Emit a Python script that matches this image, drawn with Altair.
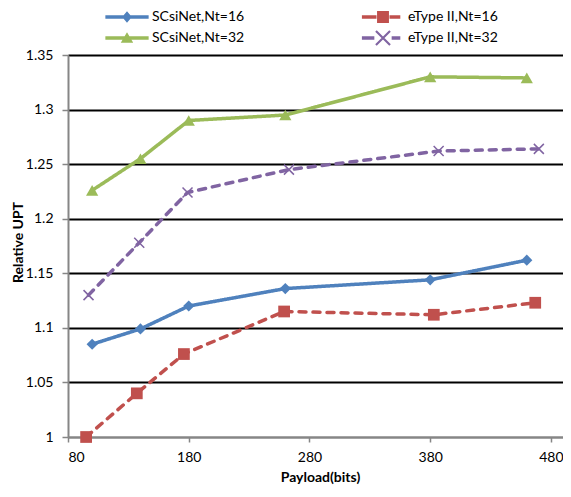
import altair as alt
import pandas as pd

series_names = ["SCsiNet,Nt=16", "eType II,Nt=16", "SCsiNet,Nt=32", "eType II,Nt=32"]
series_colors = ["#4F81BD", "#C0504D", "#9BBB59", "#8064A2"]

payload_scsinet_16 = [100, 140, 180, 260, 380, 460]
upt_scsinet_16 = [1.085, 1.099, 1.120, 1.136, 1.144, 1.162]
payload_etype_16 = [95, 137, 176, 259, 383, 467]
upt_etype_16 = [1.000, 1.040, 1.076, 1.115, 1.112, 1.123]
payload_scsinet_32 = [100, 140, 180, 260, 380, 460]
upt_scsinet_32 = [1.226, 1.255, 1.290, 1.295, 1.330, 1.329]
payload_etype_32 = [97, 139, 179, 263, 387, 470]
upt_etype_32 = [1.130, 1.178, 1.224, 1.245, 1.262, 1.264]

x_ticks = [80, 180, 280, 380, 480]
y_ticks = [1.0, 1.05, 1.1, 1.15, 1.2, 1.25, 1.3, 1.35]

rows = []
for name, xs, ys in [
    (series_names[0], payload_scsinet_16, upt_scsinet_16),
    (series_names[1], payload_etype_16, upt_etype_16),
    (series_names[2], payload_scsinet_32, upt_scsinet_32),
    (series_names[3], payload_etype_32, upt_etype_32),
]:
    for i, (xv, yv) in enumerate(zip(xs, ys)):
        rows.append({"series": name, "payload": xv, "upt": yv, "idx": i})
df = pd.DataFrame(rows)

GRAY = "#868686"
FONT = "Lato"

x_enc = alt.X(
    "payload:Q",
    scale=alt.Scale(domain=[80, 490], nice=False, zero=False),
    axis=alt.Axis(
        values=x_ticks, format="d", grid=False, title="Payload(bits)",
        domainColor=GRAY, domainWidth=2.5, tickColor=GRAY, tickSize=5, tickWidth=1.5,
        labelFont=FONT, labelFontSize=14, labelColor="black", labelPadding=8,
        titleFont=FONT, titleFontSize=14, titleFontWeight="bold", titleColor="black",
        titlePadding=6, titleX=252,
    ),
)
y_enc = alt.Y(
    "upt:Q",
    scale=alt.Scale(domain=[1.0, 1.35], nice=False, zero=False),
    axis=alt.Axis(
        values=y_ticks, format="~g", grid=True,
        gridColor={"condition": {"test": "datum.value === 1", "value": "transparent"}, "value": "#000000"},
        gridWidth=2,
        domainColor=GRAY, domainWidth=2, tickColor=GRAY, tickSize=6, tickWidth=1.5,
        labelFont=FONT, labelFontSize=14, labelColor="black", labelPadding=9,
        title="Relative UPT", titleFont=FONT, titleFontSize=14, titleFontWeight="bold",
        titleColor="black", titlePadding=0, titleY=187,
    ),
)

color_main = alt.Color("series:N", scale=alt.Scale(domain=series_names, range=series_colors), legend=None)

lines = alt.Chart(df).mark_line(strokeWidth=3.5, strokeCap="round", strokeJoin="round").encode(
    x=x_enc, y=y_enc, color=color_main,
    strokeDash=alt.StrokeDash("series:N", scale=alt.Scale(domain=series_names, range=[[1, 0], [7, 7], [1, 0], [7, 7]]), legend=None),
    order="idx:Q",
)

filled_pts = alt.Chart(df).transform_filter(
    alt.FieldOneOfPredicate(field="series", oneOf=series_names[:3])
).mark_point(filled=True, opacity=1, strokeWidth=0).encode(
    x=x_enc, y=y_enc, color=color_main,
    shape=alt.Shape("series:N", scale=alt.Scale(domain=series_names[:3], range=["diamond", "square", "triangle-up"]), legend=None),
    size=alt.Size("series:N", scale=alt.Scale(domain=series_names[:3], range=[125, 150, 170]), legend=None),
)

x_pts = alt.Chart(df).transform_filter(
    alt.FieldEqualPredicate(field="series", equal=series_names[3])
).mark_point(shape="M-1,-1L1,1M1,-1L-1,1", filled=False, size=100, strokeWidth=1.5, opacity=1, color=series_colors[3]).encode(
    x=x_enc, y=y_enc,
)

# legend symbols: line + marker combined shapes
sym_solid_diamond = "M-4,-0.33L4,-0.33L4,0.33L-4,0.33Z M0,-1.05L0.9,0L0,1.05L-0.9,0Z"
sym_dash_square = "M-3.9,-0.33L-1.2,-0.33L-1.2,0.33L-3.9,0.33Z M1.2,-0.33L3.2,-0.33L3.2,0.33L1.2,0.33Z M-1.1,-1.1L1.1,-1.1L1.1,1.1L-1.1,1.1Z"
sym_solid_triangle = "M-4,-0.33L4,-0.33L4,0.33L-4,0.33Z M0,-1.05L1.15,0.9L-1.15,0.9Z"
sym_dash_x = ("M-3.9,-0.33L-1.6,-0.33L-1.6,0.33L-3.9,0.33Z M1.6,-0.33L3.2,-0.33L3.2,0.33L1.6,0.33Z "
              "M-1.16,-1.44L1.44,1.16L1.16,1.44L-1.44,-1.16Z M1.44,-1.16L-1.16,1.44L-1.44,1.16L1.16,-1.44Z")

legend_order = [series_names[0], series_names[2], series_names[1], series_names[3]]
legend_colors = [series_colors[0], series_colors[2], series_colors[1], series_colors[3]]
legend_symbols = [sym_solid_diamond, sym_solid_triangle, sym_dash_square, sym_dash_x]

leg = alt.Legend(
    title=None, orient="none", legendX=52, legendY=-45, columns=2, columnPadding=116,
    rowPadding=6, symbolSize=117, symbolStrokeWidth=0, symbolOpacity=1,
    labelFont=FONT, labelFontSize=14, labelColor="black", labelOffset=18, labelLimit=250, padding=0,
)

legend_layer = alt.Chart(df).transform_filter("false").mark_point(filled=True, opacity=1, strokeWidth=0).encode(
    x=x_enc, y=y_enc,
    color=alt.Color("series:N", scale=alt.Scale(domain=legend_order, range=legend_colors), legend=leg),
    shape=alt.Shape("series:N", scale=alt.Scale(domain=legend_order, range=legend_symbols), legend=leg),
)

chart = alt.layer(lines, filled_pts, x_pts, legend_layer).resolve_scale(
    color="independent", shape="independent", size="independent", strokeDash="independent"
).properties(
    width=495, height=382,
    autosize=alt.AutoSizeParams(type="none"),
    padding={"left": 60, "top": 47, "right": 0, "bottom": 51},
).configure_view(stroke=None).configure(background="white")

chart.save("out.html", embed_options={"renderer": "svg", "actions": False})
